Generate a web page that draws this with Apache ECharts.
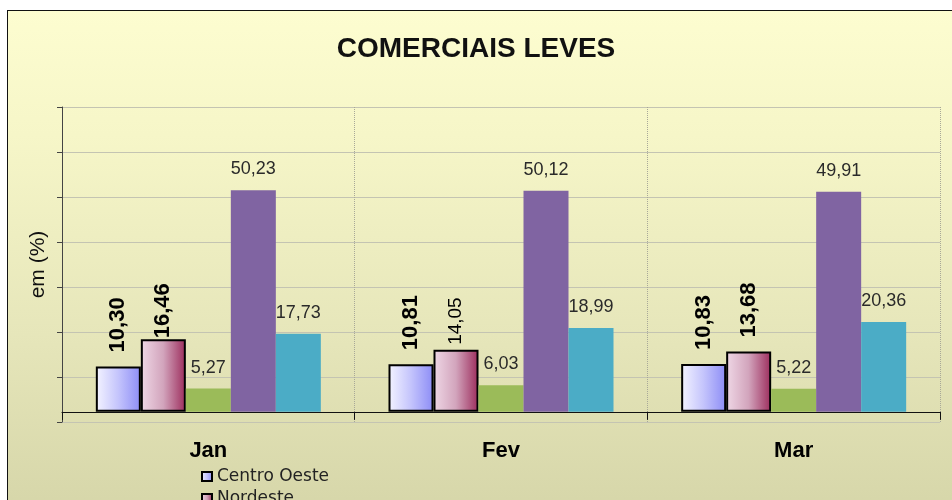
<!DOCTYPE html>
<html>
<head>
<meta charset="utf-8">
<script src="https://cdn.jsdelivr.net/npm/echarts@6/dist/echarts.min.js"></script>
<style>
  html, body { margin: 0; padding: 0; background: #ffffff; }
  #wrap { position: relative; width: 952px; height: 500px; overflow: hidden; background: #ffffff; }
  #bg { position: absolute; left: 7px; top: 10px; width: 960px; height: 500px;
        border: 1px solid #111; box-sizing: border-box;
        background: linear-gradient(to bottom, #fdfdd0 0%, #f6f6c8 25%, #e6e6ba 65%, #d6d6a9 100%); }
  #chart { position: absolute; left: 0; top: 0; width: 952px; height: 500px; }
</style>
</head>
<body>
<div id="wrap"><div id="bg"></div><div id="chart"></div></div>
<script>
// ---- data ----
const titleText = 'COMERCIAIS LEVES';
const categories = ['Jan', 'Fev', 'Mar'];
const seriesNames = ['Centro Oeste', 'Nordeste', 'Norte', 'Sudeste', 'Sul'];
const centroOeste = [10.30, 10.81, 10.83];
const nordeste = [16.46, 14.05, 13.68];
const norte = [5.27, 6.03, 5.22];
const sudeste = [50.23, 50.12, 49.91];
const sul = [17.73, 18.99, 20.36];
const nordesteBold = [true, false, true];
const yAxisName = 'em (%)';

const fmt = p => p.value.toFixed(2).replace('.', ',');

const chart = echarts.init(document.getElementById('chart'), null, { renderer: 'canvas' });

const rotLabel = (bold, dist) => ({
  show: true, position: 'top', rotate: 90, align: 'left', verticalAlign: 'middle',
  distance: dist, formatter: fmt, color: '#000',
  fontFamily: 'Liberation Sans, Arial, sans-serif',
  fontWeight: bold ? 'bold' : 'normal', fontSize: bold ? 22 : 19
});
const nordesteDist = [1, 5, 14];
const topLabel = {
  show: true, position: 'top', distance: 12, formatter: fmt, color: '#2a2a2a',
  fontFamily: 'Liberation Sans, Arial, sans-serif', fontSize: 18
};

const grad = (c0, c1, c2) => new echarts.graphic.LinearGradient(0, 0, 1, 0, [
  { offset: 0, color: c0 }, { offset: 0.5, color: c1 }, { offset: 1, color: c2 }
]);

const option = {
  animation: false,
  backgroundColor: 'transparent',
  title: {
    text: titleText, left: 'center', top: 35, padding: [0, 0, 0, 16],
    textStyle: { fontFamily: 'Liberation Sans, Arial, sans-serif', fontWeight: 'bold', fontSize: 28, color: '#111' }
  },
  legend: {
    orient: 'vertical', left: 196, top: 463, height: 200, itemGap: 5, itemWidth: 10, itemHeight: 9,
    icon: 'rect', data: seriesNames,
    textStyle: { fontFamily: 'DejaVu Sans, sans-serif', fontSize: 17, color: '#222' }
  },
  grid: { left: 62, right: 12, top: 107, bottom: 78, containLabel: false },
  xAxis: {
    type: 'category', data: categories,
    axisLine: { show: true, onZero: true, lineStyle: { color: '#111', width: 1 } },
    axisTick: { show: true, length: 8, lineStyle: { color: '#111' } },
    axisLabel: { margin: 18, fontFamily: 'Liberation Sans, Arial, sans-serif', fontWeight: 'bold', fontSize: 22, color: '#000' },
    splitLine: { show: true, lineStyle: { type: 'dotted', color: '#a8a898', width: 1 } }
  },
  yAxis: {
    type: 'value', min: -2.3, max: 69.1, interval: 10.2,
    name: yAxisName, nameLocation: 'middle', nameGap: 13, nameRotate: 90,
    nameTextStyle: { fontFamily: 'Liberation Sans, Arial, sans-serif', fontSize: 21, color: '#111' },
    axisLine: { show: true, lineStyle: { color: '#444', width: 1 } },
    axisTick: { show: true, length: 5, lineStyle: { color: '#444' } },
    axisLabel: { show: false },
    splitLine: { show: true, lineStyle: { color: '#c4c4b2', width: 1 } }
  },
  series: [
    {
      name: seriesNames[0], type: 'bar', barWidth: 45, barGap: '0%',
      data: centroOeste.map(v => ({ value: v })),
      itemStyle: { color: grad('#f4f4ff', '#c4c4fc', '#8c8cf6'), borderColor: '#000', borderWidth: 2 },
      label: rotLabel(true, 14)
    },
    {
      name: seriesNames[1], type: 'bar', barWidth: 45, barGap: '0%',
      data: nordeste.map((v, i) => ({ value: v, label: rotLabel(nordesteBold[i], nordesteDist[i]) })),
      itemStyle: { color: grad('#efd8e6', '#d2a4bc', '#9c2c5c'), borderColor: '#000', borderWidth: 2 },
      label: rotLabel(true, 14)
    },
    {
      name: seriesNames[2], type: 'bar', barWidth: 45, barGap: '0%',
      data: norte, itemStyle: { color: '#9bbb59' }, label: topLabel
    },
    {
      name: seriesNames[3], type: 'bar', barWidth: 45, barGap: '0%',
      data: sudeste, itemStyle: { color: '#8064a2' }, label: topLabel
    },
    {
      name: seriesNames[4], type: 'bar', barWidth: 45, barGap: '0%',
      data: sul, itemStyle: { color: '#4bacc6' }, label: topLabel
    }
  ]
};
chart.setOption(option);
</script>
</body>
</html>
